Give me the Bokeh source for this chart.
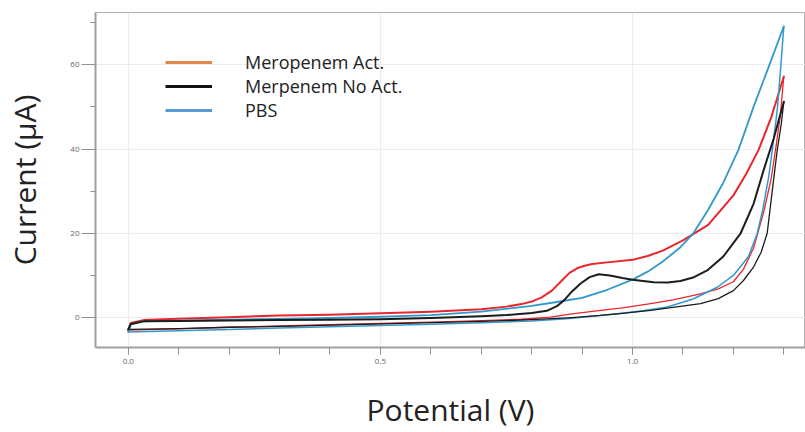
from bokeh.plotting import figure
from bokeh.models import Range1d, Legend, LegendItem, FixedTicker, PrintfTickFormatter
from bokeh.embed import file_html
from bokeh.resources import INLINE

# ---- data (potential V, current µA), forward and reverse scans ----
act_fwd_x = [0.0, 0.005, 0.03, 0.1, 0.2, 0.3, 0.4, 0.5, 0.6, 0.7, 0.75, 0.78, 0.8, 0.82, 0.84, 0.86, 0.875, 0.89, 0.905, 0.92, 0.95, 1.0, 1.03, 1.06, 1.1, 1.15, 1.2, 1.225, 1.25, 1.275, 1.3]
act_fwd_y = [-3.0, -1.3, -0.6, -0.3, 0.1, 0.5, 0.7, 1.0, 1.4, 2.0, 2.6, 3.2, 3.8, 4.8, 6.4, 8.8, 10.6, 11.7, 12.3, 12.7, 13.1, 13.7, 14.6, 15.9, 18.3, 22.0, 29.0, 34.0, 39.8, 47.5, 57.2]
act_rev_x = [1.3, 1.293, 1.285, 1.275, 1.26, 1.24, 1.22, 1.2, 1.17, 1.135, 1.08, 1.036, 0.98, 0.937, 0.88, 0.837, 0.78, 0.7, 0.6, 0.5, 0.4, 0.3, 0.2, 0.1, 0.0]
act_rev_y = [57.2, 48.0, 41.0, 33.0, 25.0, 16.5, 11.5, 8.5, 6.8, 5.6, 4.2, 3.3, 2.3, 1.7, 0.9, 0.1, -0.4, -0.7, -1.1, -1.4, -1.7, -2.0, -2.3, -2.7, -3.0]

noact_fwd_x = [0.0, 0.005, 0.03, 0.1, 0.2, 0.3, 0.4, 0.5, 0.6, 0.7, 0.75, 0.8, 0.83, 0.85, 0.865, 0.88, 0.897, 0.915, 0.933, 0.955, 0.98, 1.0, 1.042, 1.07, 1.095, 1.12, 1.148, 1.18, 1.214, 1.24, 1.26, 1.28, 1.3]
noact_fwd_y = [-2.8, -1.5, -0.9, -0.8, -0.7, -0.6, -0.5, -0.4, -0.1, 0.3, 0.6, 1.1, 1.6, 2.7, 4.2, 6.2, 8.1, 9.6, 10.3, 10.0, 9.4, 9.0, 8.4, 8.3, 8.7, 9.5, 11.2, 14.5, 19.9, 27.0, 35.0, 42.5, 51.2]
noact_rev_x = [1.3, 1.295, 1.287, 1.277, 1.267, 1.255, 1.24, 1.22, 1.2, 1.17, 1.135, 1.08, 1.036, 0.98, 0.937, 0.88, 0.8, 0.7, 0.6, 0.5, 0.4, 0.3, 0.2, 0.1, 0.0]
noact_rev_y = [51.2, 46.0, 39.8, 30.0, 20.0, 15.5, 12.0, 8.8, 6.4, 4.5, 3.3, 2.4, 1.7, 1.0, 0.5, 0.0, -0.5, -0.9, -1.2, -1.5, -1.8, -2.1, -2.3, -2.6, -2.8]

pbs_fwd_x = [0.0, 0.005, 0.03, 0.1, 0.2, 0.3, 0.4, 0.5, 0.6, 0.7, 0.8, 0.85, 0.9, 0.95, 1.0, 1.03, 1.06, 1.095, 1.12, 1.15, 1.18, 1.21, 1.24, 1.27, 1.3]
pbs_fwd_y = [-3.4, -1.6, -0.9, -0.7, -0.5, -0.3, -0.1, 0.2, 0.6, 1.4, 2.8, 3.7, 4.7, 6.6, 9.0, 10.9, 13.3, 16.7, 19.9, 25.6, 32.0, 39.8, 50.0, 59.5, 69.1]
pbs_rev_x = [1.3, 1.293, 1.287, 1.278, 1.27, 1.258, 1.247, 1.23, 1.2, 1.168, 1.12, 1.069, 1.02, 0.97, 0.92, 0.87, 0.8, 0.7, 0.6, 0.5, 0.4, 0.3, 0.2, 0.1, 0.0]
pbs_rev_y = [69.1, 58.0, 49.3, 40.5, 33.4, 25.5, 19.9, 14.5, 10.0, 7.2, 4.4, 2.5, 1.6, 0.9, 0.3, -0.3, -0.8, -1.2, -1.6, -1.9, -2.2, -2.5, -2.8, -3.1, -3.4]

series_labels = ["Meropenem Act.", "Merpenem No Act.", "PBS"]
x_ticks = [0.0, 0.5, 1.0]
y_ticks = [0, 20, 40, 60]

FONT = "Open Sans"
RED = "#e8262b"
BLACK = "#1c1c1c"
BLUE = "#3399cc"

p = figure(width=805, height=432, output_backend="svg", toolbar_location=None,
           x_range=Range1d(-0.065, 1.343), y_range=Range1d(-7.1, 72.4),
           min_border_left=95, min_border_right=0, min_border_top=12, min_border_bottom=85)
p.outline_line_color = "#b0b0b0"
p.outline_line_width = 1
p.background_fill_color = "white"
p.border_fill_color = "white"

common = dict(line_join="round", line_cap="round")
p.line(act_fwd_x, act_fwd_y, line_color=RED, line_width=2.0, **common)
p.line(act_rev_x, act_rev_y, line_color=RED, line_width=1.3, **common)
p.line(pbs_fwd_x, pbs_fwd_y, line_color=BLUE, line_width=1.8, **common)
p.line(pbs_rev_x, pbs_rev_y, line_color=BLUE, line_width=1.5, **common)
p.line(noact_fwd_x, noact_fwd_y, line_color=BLACK, line_width=2.0, **common)
p.line(noact_rev_x, noact_rev_y, line_color=BLACK, line_width=1.3, **common)

# legend swatches (as in the original figure); NaN point so nothing shows in the plot
nan = float("nan")
leg_colors = ["#e0884c", "#111111", "#5b9bd5"]
items = []
for lab, col in zip(series_labels, leg_colors):
    r = p.line([nan], [nan], line_color=col, line_width=3)
    items.append(LegendItem(label=lab, renderers=[r]))
legend = Legend(items=items, location=(70, 225), orientation="vertical",
                glyph_width=47, glyph_height=24, label_height=24, label_standoff=33,
                spacing=0, padding=0, margin=0,
                label_text_font=FONT, label_text_font_size="18px", label_text_color="#222222",
                border_line_color=None, background_fill_alpha=0)
p.add_layout(legend)

# axes
for ax in (p.xaxis[0], p.yaxis[0]):
    ax.axis_line_color = "#a0a0a0"
    ax.axis_line_width = 2
    ax.major_tick_line_color = "#909090"
    ax.minor_tick_line_color = "#909090"
    ax.major_tick_in = 0
    ax.minor_tick_in = 0
    ax.major_label_text_font = FONT
    ax.major_label_text_font_size = "8px"
    ax.major_label_text_color = "#666666"
    ax.axis_label_text_font = FONT
    ax.axis_label_text_font_size = "30px"
    ax.axis_label_text_font_style = "normal"
    ax.axis_label_text_color = "#222222"

p.xaxis.ticker = FixedTicker(ticks=x_ticks, minor_ticks=[i / 10 for i in range(0, 14)])
p.yaxis.ticker = FixedTicker(ticks=y_ticks, minor_ticks=[10 * i for i in range(0, 8)])
p.xaxis.formatter = PrintfTickFormatter(format="%.1f")
p.xaxis.major_tick_out = 7
p.xaxis.minor_tick_out = 7
p.xaxis.major_label_standoff = 4
p.yaxis.major_tick_out = 14
p.yaxis.minor_tick_out = 5
p.yaxis.major_label_standoff = 2
p.xaxis.axis_label = "Potential (V)"
p.yaxis.axis_label = "Current (µA)"
p.xaxis.axis_label_standoff = 22
p.yaxis.axis_label_standoff = 22
p.yaxis.axis_label_text_line_height = 1.0

p.xgrid.ticker = FixedTicker(ticks=x_ticks)
p.ygrid.ticker = FixedTicker(ticks=y_ticks)
p.grid.grid_line_color = "#ececec"
p.grid.grid_line_width = 1

open("out.html", "w").write(file_html(p, INLINE))
